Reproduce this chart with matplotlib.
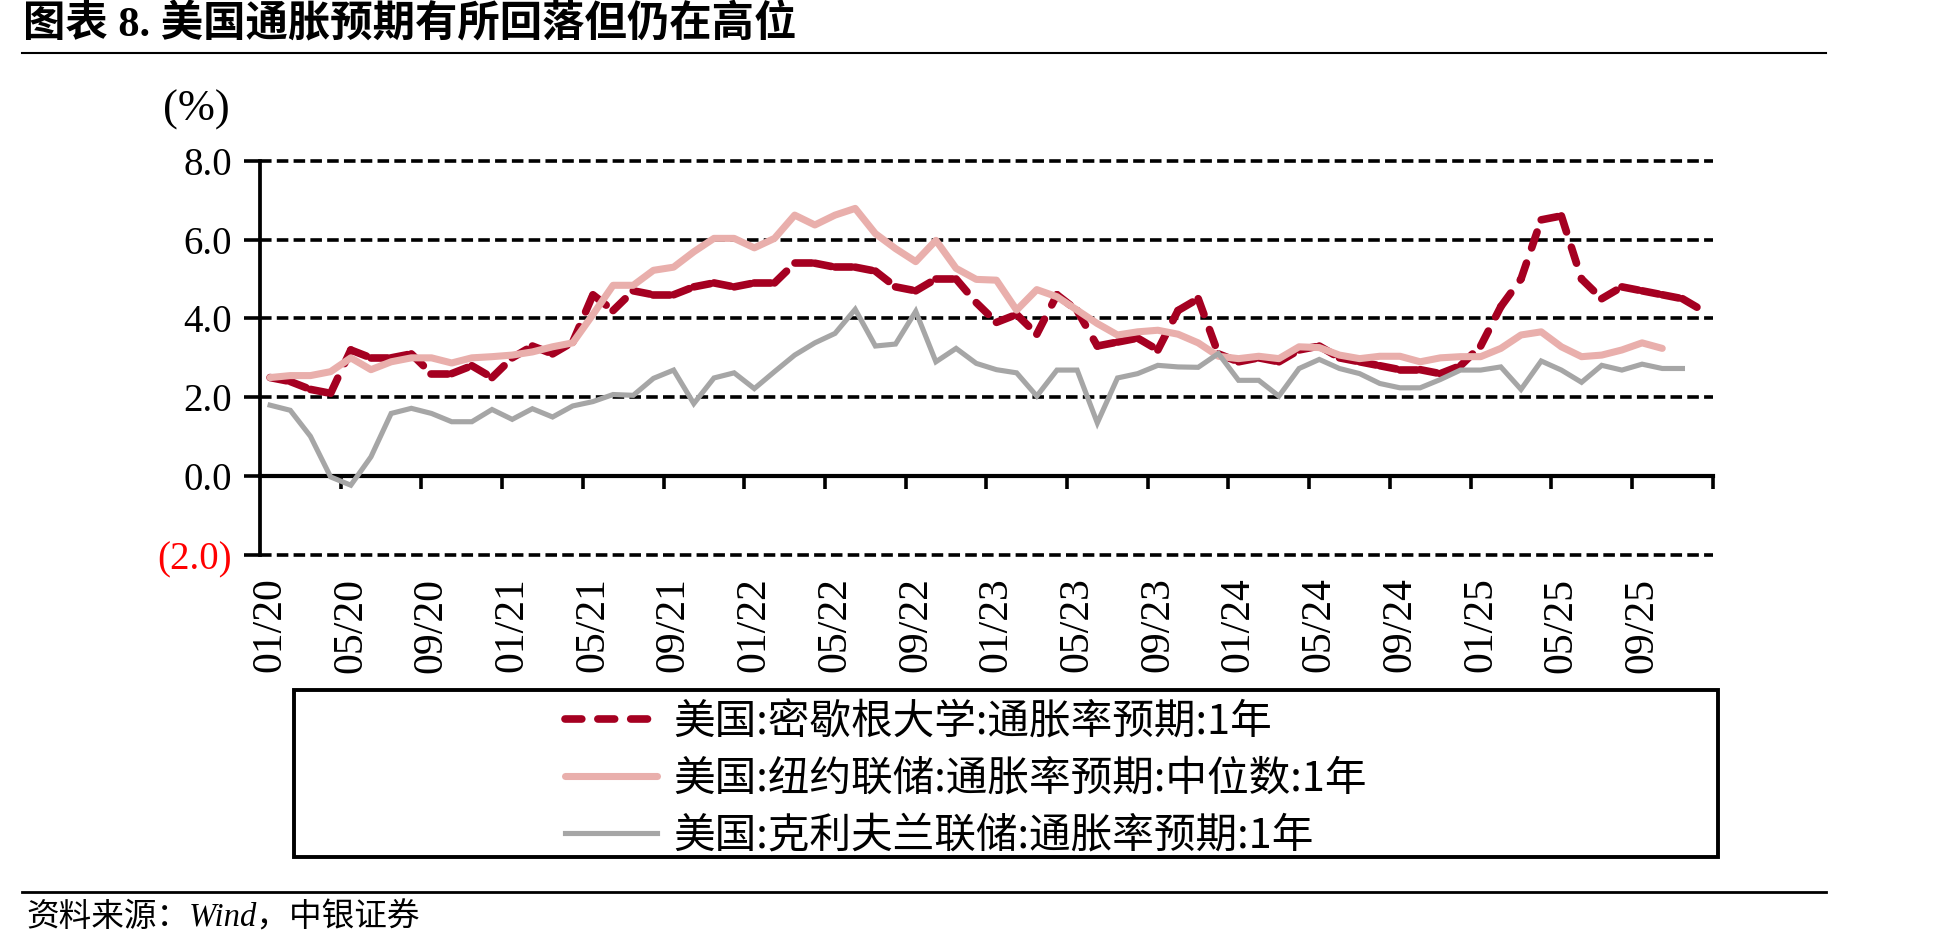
import numpy as np
import matplotlib.pyplot as plt
from matplotlib.lines import Line2D
from matplotlib.patches import Rectangle

plt.rcParams['font.family'] = ['Liberation Serif', 'Noto Sans CJK SC']

# 2020-01 .. 2025-12, monthly
tick_labels = ['01/20', '05/20', '09/20', '01/21', '05/21', '09/21', '01/22', '05/22', '09/22',
               '01/23', '05/23', '09/23', '01/24', '05/24', '09/24', '01/25', '05/25', '09/25']

michigan = [2.5, 2.4, 2.2, 2.1, 3.2, 3.0, 3.0, 3.1, 2.6, 2.6, 2.8, 2.5,
            3.0, 3.3, 3.1, 3.4, 4.6, 4.2, 4.7, 4.6, 4.6, 4.8, 4.9, 4.8,
            4.9, 4.9, 5.4, 5.4, 5.3, 5.3, 5.2, 4.8, 4.7, 5.0, 5.0, 4.4,
            3.9, 4.1, 3.6, 4.6, 4.2, 3.3, 3.4, 3.5, 3.2, 4.2, 4.5, 3.1,
            2.9, 3.0, 2.9, 3.2, 3.3, 3.0, 2.9, 2.8, 2.7, 2.7, 2.6, 2.8,
            3.3, 4.3, 5.0, 6.5, 6.6, 5.0, 4.5, 4.8, 4.7, 4.6, 4.5, 4.2]

nyfed = [2.50, 2.55, 2.55, 2.65, 3.00, 2.70, 2.90, 3.00, 3.00, 2.87, 3.00, 3.03,
         3.07, 3.15, 3.28, 3.38, 4.10, 4.84, 4.84, 5.22, 5.30, 5.69, 6.03, 6.03,
         5.79, 6.03, 6.62, 6.37, 6.62, 6.79, 6.15, 5.77, 5.44, 5.98, 5.27, 4.99,
         4.97, 4.21, 4.73, 4.55, 4.21, 3.87, 3.58, 3.66, 3.70, 3.60, 3.38, 3.04,
         2.98, 3.04, 2.98, 3.28, 3.26, 3.07, 2.98, 3.04, 3.04, 2.90, 3.00, 3.03,
         3.03, 3.24, 3.58, 3.66, 3.28, 3.03, 3.07, 3.20, 3.38, 3.24]

cleveland = [1.80, 1.67, 1.01, -0.02, -0.23, 0.49, 1.59, 1.72, 1.59, 1.38, 1.38, 1.69,
             1.44, 1.71, 1.50, 1.78, 1.89, 2.07, 2.05, 2.48, 2.69, 1.84, 2.49, 2.62,
             2.22, 2.65, 3.07, 3.38, 3.62, 4.23, 3.30, 3.35, 4.18, 2.90, 3.24, 2.86,
             2.70, 2.62, 2.03, 2.69, 2.69, 1.35, 2.49, 2.60, 2.81, 2.77, 2.76, 3.11,
             2.43, 2.43, 2.03, 2.73, 2.96, 2.73, 2.60, 2.35, 2.24, 2.24, 2.45, 2.69,
             2.69, 2.77, 2.20, 2.92, 2.69, 2.38, 2.81, 2.69, 2.84, 2.73, 2.73]

series_labels = ['美国:密歇根大学:通胀率预期:1年',
                 '美国:纽约联储:通胀率预期:中位数:1年',
                 '美国:克利夫兰联储:通胀率预期:1年']
colors = ['#A50021', '#E9AFAC', '#A6A6A6']

W, H = 1948, 951
fig = plt.figure(figsize=(W / 100, H / 100), dpi=100)
ax = fig.add_axes([260 / W, 1 - 555 / H, (1712.7 - 260) / W, (555 - 160.7) / H])

# Michigan: dash pattern restarts on every segment, like the original chart
xm = np.arange(len(michigan))
for i in range(len(michigan) - 1):
    ax.plot(xm[i:i + 2], michigan[i:i + 2], color=colors[0], lw=5.5,
            dashes=(2.2, 2.1), dash_capstyle='round', solid_capstyle='round',
            label=series_labels[0] if i == 0 else '_nolegend_', zorder=3)

ax.plot(np.arange(len(nyfed)), nyfed, color=colors[1], lw=5.1,
        solid_capstyle='round', solid_joinstyle='round', label=series_labels[1], zorder=4)
ax.plot(np.arange(len(cleveland)), cleveland, color=colors[2], lw=3.7,
        solid_joinstyle='miter', label=series_labels[2], zorder=5)

ax.set_xlim(-0.5, 71.5)
ax.set_ylim(-2, 8)

for yv in [-2, 2, 4, 6, 8]:
    ax.axhline(yv, color='black', lw=2.6, dashes=(3.2, 1.45), clip_on=False, zorder=1)

ax.spines['top'].set_visible(False)
ax.spines['right'].set_visible(False)
ax.spines['bottom'].set_position(('data', 0))
ax.spines['bottom'].set_linewidth(3.0)
ax.spines['left'].set_linewidth(2.7)

ax.set_yticks([-2, 0, 2, 4, 6, 8], labels=['(2.0)', '0.0', '2.0', '4.0', '6.0', '8.0'])
ax.get_yticklabels()[0].set_color('red')
ax.tick_params(axis='y', length=11.3, width=2.6, pad=8.6, labelsize=28, direction='out')

ax.set_xticks(np.arange(3.5, 72, 4))
ax.set_xticks(np.arange(0, 72, 4), labels=tick_labels, minor=True)
ax.tick_params(axis='x', which='major', length=9.6, width=2.6, direction='out', labelbottom=False)
ax.tick_params(axis='x', which='minor', length=0, pad=73, labelsize=30, labelrotation=90)

fig.text(230 / W, 1 - 110 / H, '(%)', fontsize=32, ha='right', va='center')

# legend with its own frame
fig.add_artist(Rectangle((294 / W, 1 - 857 / H), (1718 - 294) / W, (857 - 689.5) / H,
                         transform=fig.transFigure, fill=False, lw=2.8, ec='black'))
fig.legend(loc='upper left', bbox_to_anchor=(565 / W, 1 - 702 / H), frameon=False,
           prop={'family': 'Noto Sans CJK SC', 'size': 30}, handlelength=2.2,
           handletextpad=0.4, labelspacing=0.38, borderpad=0, borderaxespad=0)

fig.text(23 / W, 1 - 25 / H, '图表 8. 美国通胀预期有所回落但仍在高位',
         fontsize=30.5, fontweight='bold', ha='left', va='center')
fig.add_artist(Line2D([22 / W, 1826 / W], [1 - 53 / H] * 2, transform=fig.transFigure,
                      color='black', lw=1.5))
fig.add_artist(Line2D([22 / W, 1826 / W], [1 - 892 / H] * 2, transform=fig.transFigure,
                      color='black', lw=2))
fig.text(26 / W, 1 - 918 / H, '资料来源：Wind，中银证券', fontsize=23.5, style='italic',
         ha='left', va='center')

fig.savefig('out.png', dpi=100)
